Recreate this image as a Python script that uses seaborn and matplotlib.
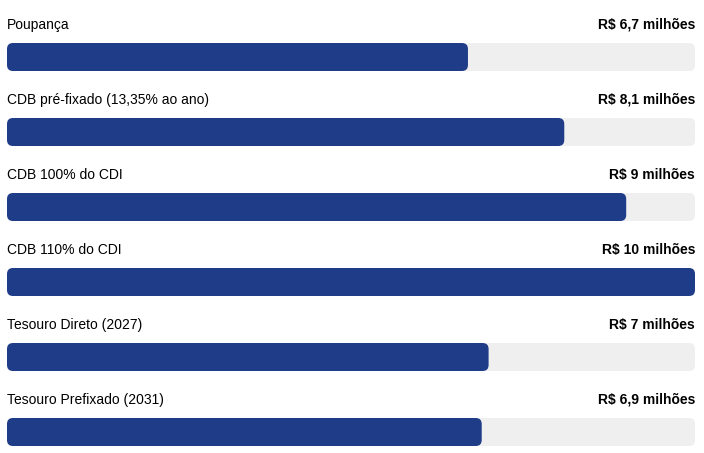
import pandas as pd
import matplotlib
matplotlib.use('Agg')
import matplotlib.pyplot as plt
from matplotlib.patches import FancyBboxPatch
import seaborn as sns

# dados do gráfico
categorias = ['Poupança', 'CDB pré-fixado (13,35% ao ano)', 'CDB 100% do CDI',
              'CDB 110% do CDI', 'Tesouro Direto (2027)', 'Tesouro Prefixado (2031)']
valores = [6.7, 8.1, 9.0, 10.0, 7.0, 6.9]
rotulos = ['R$ 6,7 milhões', 'R$ 8,1 milhões', 'R$ 9 milhões',
           'R$ 10 milhões', 'R$ 7 milhões', 'R$ 6,9 milhões']

maximo = max(valores)
df = pd.DataFrame({'categoria': categorias, 'valor': valores, 'trilha': [maximo] * len(valores)})

sns.set_theme(style='white')
plt.rcParams['font.family'] = ['Liberation Sans', 'DejaVu Sans']

W, H = 704, 453
fig = plt.figure(figsize=(W / 100, H / 100), dpi=100)
x0, x1 = 7, 695
ax = fig.add_axes([x0 / W, 0, (x1 - x0) / W, 1])

altura = 28 / 75
sns.barplot(data=df, y='categoria', x='trilha', order=categorias, color='#efefef',
            width=altura, orient='h', ax=ax, saturation=1)
sns.barplot(data=df, y='categoria', x='valor', order=categorias, color='#1f3c88',
            width=altura, orient='h', ax=ax, saturation=1)

ax.set_xlim(0, maximo)
ax.set_ylim((H - 57) / 75, -57 / 75)

# cantos arredondados
px_x = maximo / (x1 - x0)
px_y = 1 / 75
for p in list(ax.patches):
    b = p.get_bbox()
    nova = FancyBboxPatch((b.x0, b.y0), b.width, b.height,
                          boxstyle=f'round,pad=0,rounding_size={6 * px_x}',
                          mutation_aspect=px_y / px_x,
                          facecolor=p.get_facecolor(), edgecolor='none', zorder=p.get_zorder())
    p.remove()
    ax.add_patch(nova)

for i, (cat, rot) in enumerate(zip(categorias, rotulos)):
    ax.text(0, i - 32 / 75, cat, ha='left', va='center', fontsize=10, color='#000000')
    ax.text(maximo, i - 32 / 75, rot, ha='right', va='center', fontsize=10,
            fontweight='bold', color='#000000')

ax.set_axis_off()
fig.savefig('out.png', dpi=100)
